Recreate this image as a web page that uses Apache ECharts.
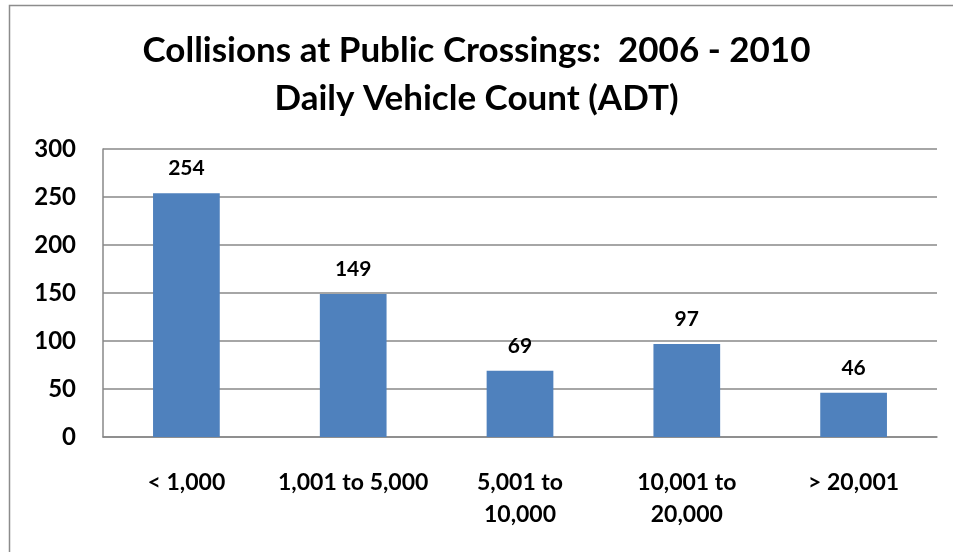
<!DOCTYPE html>
<html><head><meta charset="utf-8">
<script src="https://cdn.jsdelivr.net/npm/echarts@6/dist/echarts.min.js"></script>
<style>html,body{margin:0;padding:0;background:#fff}#c{width:953px;height:552px}</style>
</head><body><div id="c"></div>
<script>
const categories = ['< 1,000', '1,001 to 5,000', '5,001 to\n10,000', '10,001 to\n20,000', '> 20,001'];
const collisions = [254, 149, 69, 97, 46];
const titleLines = 'Collisions at Public Crossings:  2006 - 2010\nDaily Vehicle Count (ADT)';
const FONT = 'Lato, "Open Sans", sans-serif';
const chart = echarts.init(document.getElementById('c'), null, {renderer: 'canvas'});
chart.setOption({
  animation: false,
  graphic: [{type: 'rect', shape: {x: 9.5, y: 5.5, width: 1200, height: 1200},
    style: {fill: 'none', stroke: '#8c8c8c', lineWidth: 1.5}, silent: true}],
  title: {text: titleLines, left: 'center', top: 22,
    textStyle: {fontFamily: FONT, fontWeight: 'bold', fontSize: 35, lineHeight: 48, color: '#000'}},
  grid: {left: 103, right: 16, top: 149, bottom: 115, containLabel: false},
  xAxis: {type: 'category', data: categories,
    axisLine: {lineStyle: {color: '#888', width: 1.5}}, axisTick: {show: false},
    axisLabel: {interval: 0, margin: 30, fontFamily: FONT, fontWeight: 'bold', fontSize: 23, lineHeight: 32, color: '#000'}},
  yAxis: {type: 'value', min: 0, max: 300, interval: 50,
    axisLine: {show: true, lineStyle: {color: '#888', width: 1.5}}, axisTick: {show: false},
    splitLine: {lineStyle: {color: '#888', width: 1.5}},
    axisLabel: {margin: 27, fontFamily: FONT, fontWeight: 'bold', fontSize: 24, color: '#000'}},
  series: [{type: 'bar', data: collisions, barWidth: '40%',
    itemStyle: {color: '#4F81BD'},
    label: {show: true, position: 'top', distance: 14, fontFamily: FONT, fontWeight: 'bold', fontSize: 21, color: '#000'}}]
});
</script></body></html>
